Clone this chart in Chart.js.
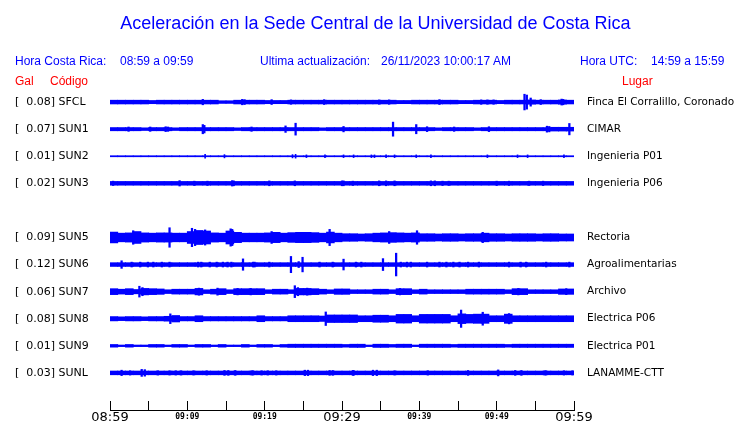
<!DOCTYPE html>
<html><head><meta charset="utf-8">
<script src="https://cdn.jsdelivr.net/npm/chart.js@4.4.0/dist/chart.umd.min.js"></script>
<style>
body{margin:0;background:#fff;}
#wrap{position:relative;width:740px;height:423px;overflow:hidden;background:#fff;}
#c{position:absolute;left:0;top:0;}
.t{position:absolute;white-space:pre;font-family:"Liberation Sans",Arial,sans-serif;line-height:1;}
.b{color:#0000ff;font-size:12px;}
.r{color:#ff0000;font-size:12px;}
</style></head>
<body><div id="wrap">
<canvas id="c" width="740" height="423"></canvas>
<div class="t" style="left:0;width:751px;text-align:center;top:14px;font-size:18px;color:#0000ff;">Aceleración en la Sede Central de la Universidad de Costa Rica</div>
<div class="t b" style="left:15px;top:55px;">Hora Costa Rica:</div>
<div class="t b" style="left:120px;top:55px;">08:59 a 09:59</div>
<div class="t b" style="left:260px;top:55px;">Ultima actualización:</div>
<div class="t b" style="left:381px;top:55px;">26/11/2023 10:00:17 AM</div>
<div class="t b" style="left:580px;top:55px;">Hora UTC:</div>
<div class="t b" style="left:651px;top:55px;">14:59 a 15:59</div>
<div class="t r" style="left:15px;top:75px;">Gal</div>
<div class="t r" style="left:50px;top:75px;">Código</div>
<div class="t r" style="left:622px;top:75px;">Lugar</div>
</div>
<script>
// ---- data ----
const stations = ['SFCL','SUN1','SUN2','SUN3','SUN5','SUN6','SUN7','SUN8','SUN9','SUNL'];
const places = ['Finca El Corralillo, Coronado','CIMAR','Ingenieria P01','Ingenieria P06','Rectoria','Agroalimentarias','Archivo','Electrica P06','Electrica P01','LANAMME-CTT'];
const gal = [0.08,0.07,0.01,0.02,0.09,0.12,0.06,0.08,0.01,0.03];
const rows = [0,1,2,3,5,6,7,8,9,10];
const xTickMinutes = [0,5,10,15,20,25,30,35,40,45,50,55,60];
const xTickLabels = ['08:59','','09:09','','09:19','','09:29','','09:39','','09:49','','09:59'];
const majorTicks = ['08:59','09:29','09:59'];

// envelope half-amplitude per minute (hundredths of a row)
const envSFCL = [7,7,7,7,7,6,7,7,7,7, 7,7,7,7,5,5,7,7,7,7, 6,6,6,7,7,7,7,7,7,7, 7,7,7,7,7,7,7,6,6,7, 7,7,7,7,7,6,6,7,7,7, 6,7,7,7,8,7,7,7,8,7];
const envSUN1 = [6,6,6,6,5,6,6,6,5,6, 6,6,6,6,6,6,5,6,6,6, 6,6,6,6,6,6,6,5,6,6, 6,6,6,6,6,6,6,6,6,6, 6,6,5,6,6,6,6,5,6,6, 6,6,6,6,6,6,6,7,7,7];
const envSUN2 = [2,2,2,2,2,2,2,2,2,2, 2,2,2,2,2,2,2,2,2,2, 2,2,2,2,2,2,2,2,2,2, 2,2,2,2,2,2,2,2,2,2, 2,2,2,2,2,2,2,2,2,2, 2,2,2,2,2,2,2,2,2,2];
const envSUN3 = [7,7,7,7,7,7,7,7,7,7, 7,7,7,7,7,7,7,7,7,7, 7,7,7,7,7,7,7,7,7,7, 7,7,7,7,7,7,7,7,7,7, 7,7,7,7,7,7,7,7,7,7, 7,7,7,7,7,7,7,7,7,7];
const envSUN5 = [20,16,17,22,17,16,17,17,16,16, 22,26,24,17,16,24,19,16,16,16, 17,19,16,18,19,19,18,16,20,16, 14,14,13,14,16,17,18,17,16,17, 14,14,13,14,14,13,14,14,16,14, 14,13,14,14,14,13,14,14,13,13];
const envSUN6 = [7,7,7,7,7,7,7,7,7,7, 7,7,7,7,7,7,7,7,7,7, 7,7,7,7,7,7,7,7,7,7, 7,7,7,7,7,7,7,7,7,7, 7,7,7,7,7,7,7,7,7,7, 7,7,7,7,7,7,7,7,7,7];
const envSUN7 = [11,9,11,8,12,11,10,7,9,9, 9,12,7,9,11,7,11,11,11,11, 7,9,9,7,12,12,11,9,7,10, 10,7,7,7,9,9,7,11,11,7, 9,7,7,7,7,7,9,9,9,9, 9,7,11,11,7,7,7,7,10,10];
const envSUN8 = [8,7,8,8,7,8,8,9,12,8, 8,11,8,8,8,8,8,8,8,11, 8,8,8,11,11,11,11,10,14,14, 14,14,11,11,13,13,11,16,16,11, 16,16,16,16,11,18,16,17,17,11, 11,17,11,11,11,11,11,11,11,11];
const envSUN9 = [5,3,5,3,3,5,5,3,5,5, 3,5,5,3,5,3,3,5,3,5, 5,3,5,6,6,6,6,6,6,6, 5,6,6,3,6,6,5,6,6,3, 6,6,6,6,5,6,6,6,6,6, 6,5,6,6,6,6,6,6,6,6];
const envSUNL = [7,7,7,7,7,7,7,7,7,7, 7,7,7,7,7,7,7,7,7,7, 7,7,7,7,7,7,7,7,7,7, 7,7,7,7,7,7,7,7,7,7, 7,7,7,7,7,7,7,7,7,7, 7,7,7,7,7,7,7,7,7,7];

// individual spikes: [minute, half-amplitude in hundredths of a row]
const spkSFCL = [[12.0,10],[17.1,10],[17.4,9],[20.9,9],[23.4,8],[27.7,9],[34.8,8],[36.1,8],[42.6,9],[48.0,8],[48.8,8],[49.6,8],[53.6,29],[53.9,26],[54.4,15],[55.7,9],[58.4,11],[58.6,10]];
const spkSUN1 = [[2.4,8],[5.2,8],[7.2,9],[7.5,8],[12.0,17],[12.2,14],[18.3,8],[22.7,12],[24.0,22],[30.2,10],[36.6,26],[39.6,17],[41.0,9],[44.5,8],[49.0,9],[56.5,11],[56.8,10],[59.4,21]];
const spkSUN2 = [[12.3,7],[14.8,6],[23.6,6],[24.0,7],[25.4,5],[27.8,5],[30.2,5],[31.5,5],[33.8,5],[34.2,5],[35.7,5],[36.8,5],[39.6,5],[41.5,5],[48.8,5],[52.7,5],[54.0,5],[58.7,5]];
const spkSUN3 = [[0.4,8],[9.0,10],[10.9,8],[12.6,8],[15.8,10],[16.0,9],[20.6,9],[23.9,9],[30.0,9],[30.2,9],[31.4,8],[34.8,9],[35.7,9],[36.8,9],[41.5,9],[42.0,9],[43.0,8],[43.8,8],[50.0,8],[51.6,8],[54.2,8],[56.0,8]];
const spkSUN5 = [[3.0,25],[7.7,36],[10.6,34],[11.0,30],[12.3,28],[15.6,32],[15.8,30],[20.9,22],[28.4,30],[36.1,22],[39.7,25],[48.2,19]];
const spkSUN6 = [[1.5,14],[2.8,9],[3.9,9],[4.9,9],[5.6,9],[6.7,9],[7.7,9],[11.4,9],[11.8,9],[12.9,9],[13.8,9],[14.6,9],[15.2,9],[15.7,9],[17.2,21],[18.5,9],[18.7,9],[20.6,9],[23.4,30],[24.4,11],[24.9,27],[27.1,9],[28.8,9],[30.2,20],[31.8,9],[32.5,9],[35.3,22],[37.0,42],[37.6,9],[38.4,9],[38.9,9],[41.0,9],[42.6,9],[43.5,9],[44.4,9],[45.2,9],[46.3,9],[47.7,9],[51.6,9],[53.1,9],[53.8,9],[56.4,9],[59.4,9]];
const spkSUN7 = [[3.8,20],[4.2,15],[11.5,13],[13.9,13],[16.5,12],[18.2,12],[23.9,22],[24.3,15],[25.5,13],[37.5,12],[52.8,12],[59.0,11]];
const spkSUN8 = [[7.8,18],[27.9,25],[45.4,32],[48.2,24],[51.6,19]];
const spkSUN9 = [];
const spkSUNL = [[1.5,10],[2.6,8],[4.1,13],[4.5,12],[6.2,8],[7.7,8],[8.5,8],[9.2,8],[10.8,8],[12.5,8],[14.8,9],[15.3,9],[16.2,9],[18.3,8],[18.5,8],[19.6,8],[20.4,8],[21.5,8],[25.2,10],[25.6,10],[28.4,9],[28.8,9],[31.4,9],[31.5,9],[34.0,10],[34.5,10],[36.8,8],[41.1,8],[46.3,9],[50.2,11],[52.4,9],[53.2,9],[56.2,8],[56.4,8],[58.7,8],[59.8,8]];

const envelopes = [envSFCL,envSUN1,envSUN2,envSUN3,envSUN5,envSUN6,envSUN7,envSUN8,envSUN9,envSUNL];
const spikes = [spkSFCL,spkSUN1,spkSUN2,spkSUN3,spkSUN5,spkSUN6,spkSUN7,spkSUN8,spkSUN9,spkSUNL];

// ---- chart ----
const BLUE = '#0000ff';
const datasets = [];
stations.forEach((s, i) => {
  const r = rows[i];
  datasets.push({
    label: s + ' env', grouped: false, backgroundColor: BLUE, borderWidth: 0, barThickness: 7.9,
    data: envelopes[i].map((a, m) => ({x: m + 0.5, y: [r - a / 100, r + a / 100]}))
  });
  datasets.push({
    label: s + ' spk', grouped: false, backgroundColor: BLUE, borderWidth: 0, barThickness: s === 'SUN2' ? 1 : 1.6,
    data: spikes[i].map(([m, a]) => ({x: m, y: [r - a / 100, r + a / 100]}))
  });
});
const leftLabels = stations.map((s, i) => '[  ' + gal[i].toFixed(2) + '] ' + s);

function noPad(s) { s.paddingTop = 0; s.paddingBottom = 0; s.paddingLeft = 0; s.paddingRight = 0; }

new Chart(document.getElementById('c'), {
  type: 'bar',
  data: {datasets},
  options: {
    responsive: false, animation: false, devicePixelRatio: 1,
    layout: {padding: {left: 15, right: 0, top: 88, bottom: 0}},
    plugins: {legend: {display: false}, tooltip: {enabled: false}, title: {display: false}},
    scales: {
      x: {
        type: 'linear', min: 0, max: 60, offset: false,
        grid: {offset: false, drawOnChartArea: false, color: '#000', tickLength: -9, tickWidth: 1},
        border: {display: true, color: '#000', width: 1},
        afterBuildTicks: s => { s.ticks = xTickMinutes.map(v => ({value: v})); },
        afterFit: s => { s.height = 13; noPad(s); },
        ticks: {
          autoSkip: false, maxRotation: 0, minRotation: 0, padding: 9, color: '#000',
          font: ctx => majorTicks.includes(xTickLabels[ctx.index])
            ? {family: 'DejaVu Sans', size: 13, lineHeight: 1.2}
            : {family: 'DejaVu Sans Mono', size: 8, weight: 'bold', lineHeight: 1.75},
          callback: (v, i) => xTickLabels[i]
        }
      },
      y: {
        type: 'linear', position: 'left', reverse: true, min: -0.52, max: 11.37,
        grid: {display: false, drawTicks: false}, border: {display: false},
        afterBuildTicks: s => { s.ticks = rows.map(v => ({value: v})); },
        afterFit: s => { s.width = 95; noPad(s); },
        ticks: {autoSkip: false, crossAlign: 'far', padding: 0, color: '#000',
          font: {family: 'DejaVu Sans', size: 11}, callback: (v, i) => leftLabels[i]}
      },
      y2: {
        type: 'linear', position: 'right', reverse: true, min: -0.52, max: 11.37,
        grid: {display: false, drawTicks: false}, border: {display: false},
        afterBuildTicks: s => { s.ticks = rows.map(v => ({value: v})); },
        afterFit: s => { s.width = 166; noPad(s); },
        ticks: {autoSkip: false, crossAlign: 'near', padding: 13, color: '#000',
          font: {family: 'DejaVu Sans', size: 10.5}, callback: (v, i) => places[i]}
      }
    }
  }
});
</script>
</body></html>
